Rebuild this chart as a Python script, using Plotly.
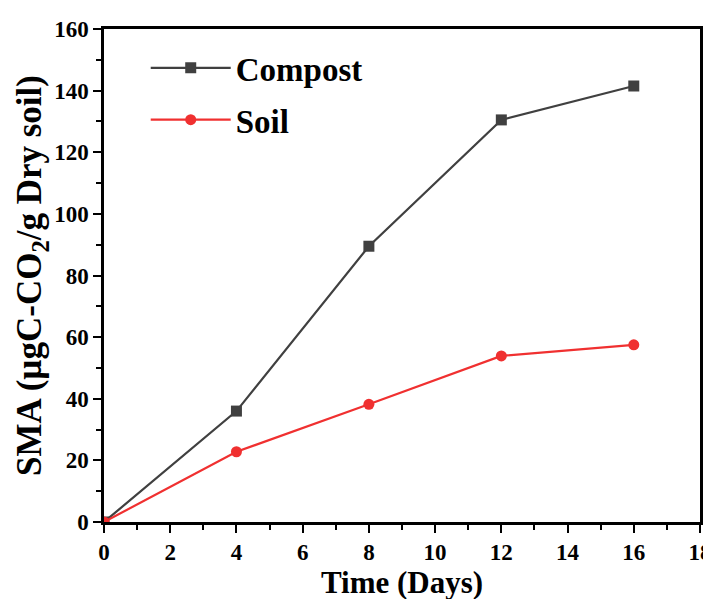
import plotly.graph_objects as go

days = [0, 4, 8, 12, 16]
compost = [0, 36, 89.5, 130.5, 141.5]
soil = [0, 22.8, 38.2, 53.9, 57.5]

FONT = "Liberation Serif"

fig = go.Figure()
fig.add_trace(go.Scatter(
    x=days, y=compost, name="<b>Compost</b>", mode="lines+markers",
    line=dict(color="#404040", width=2.2),
    marker=dict(symbol="square", size=11, color="#404040"),
    legendgroup="a"))
fig.add_trace(go.Scatter(
    x=days, y=soil, name="<b>Soil</b>", mode="lines+markers",
    line=dict(color="#f03030", width=2.2),
    marker=dict(symbol="circle", size=11, color="#f03030"),
    legendgroup="b"))

axis_common = dict(
    showline=True, linecolor="black", linewidth=2.5, mirror=True,
    ticks="outside", ticklen=8, tickwidth=2, tickcolor="black",
    showgrid=False, zeroline=False, automargin=False,
    tickfont=dict(family=FONT, size=23, color="black", weight="bold"),
)

fig.update_xaxes(
    range=[0, 18], tick0=0, dtick=2,
    minor=dict(ticks="outside", ticklen=5, tickwidth=2, dtick=1, tickcolor="black"),
    title=dict(text="<b>Time (Days)</b>", font=dict(family=FONT, size=31, color="black"), standoff=0),
    **axis_common)
fig.update_yaxes(
    range=[0, 160], tick0=0, dtick=20,
    minor=dict(ticks="outside", ticklen=5, tickwidth=2, dtick=10, tickcolor="black"),
    title=dict(text="<b>SMA (µgC-CO<sub>2</sub>/g Dry soil)</b>", font=dict(family=FONT, size=35, color="black"), standoff=2),
    **axis_common)

fig.update_layout(
    width=711, height=599,
    margin=dict(l=96, r=19, t=21, b=85),
    plot_bgcolor="white", paper_bgcolor="white",
    legend=dict(x=0.07, y=0.978, xanchor="left", yanchor="top",
                font=dict(family=FONT, size=33, color="black"),
                bgcolor="rgba(0,0,0,0)", tracegroupgap=6, itemwidth=80),
    showlegend=True,
)

fig.write_html("out.html")
